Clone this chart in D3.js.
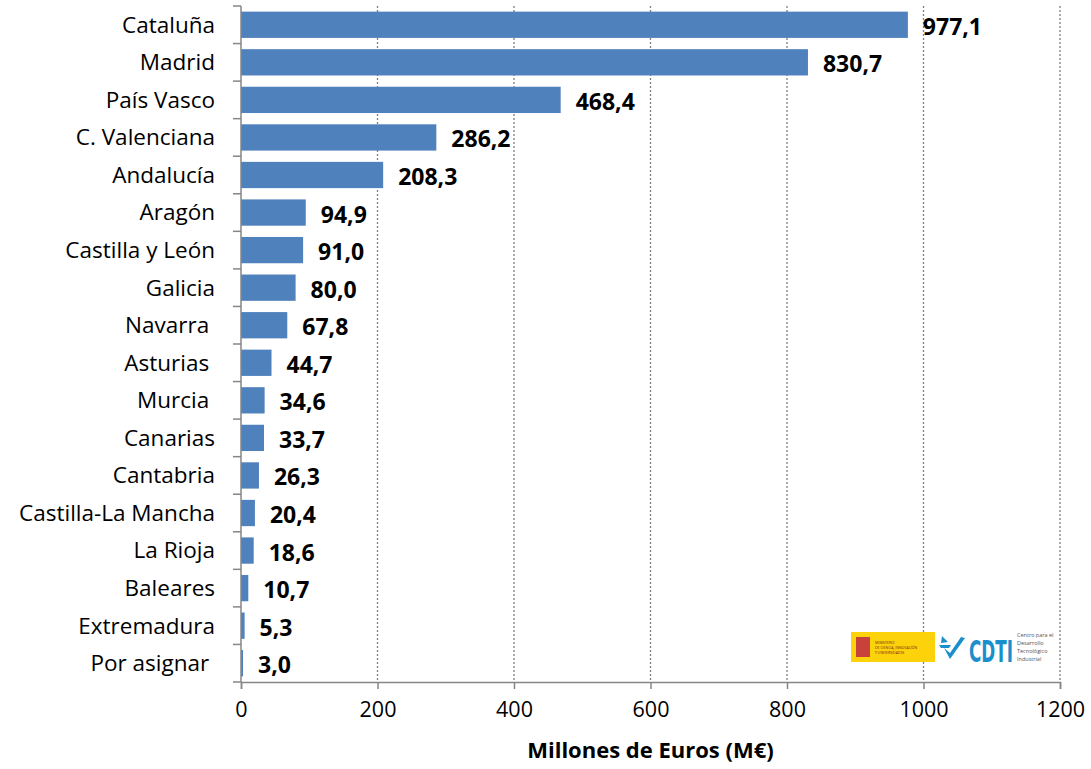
<!DOCTYPE html>
<html>
<head>
<meta charset="utf-8">
<script src="https://cdn.jsdelivr.net/npm/d3@7"></script>
<style>
body { margin: 0; background: #fff; }
text { font-family: "Open Sans", "Noto Sans", sans-serif; }
.cat text { white-space: pre; }
</style>
</head>
<body>
<div id="chart"></div>
<script>
var regions = ["Cataluña", "Madrid", "País Vasco", "C. Valenciana", "Andalucía", "Aragón",
    "Castilla y León", "Galicia", "Navarra ", "Asturias ", "Murcia ", "Canarias", "Cantabria",
    "Castilla-La Mancha", "La Rioja", "Baleares", "Extremadura", "Por asignar "];
var values = [977.1, 830.7, 468.4, 286.2, 208.3, 94.9, 91.0, 80.0, 67.8, 44.7, 34.6, 33.7,
    26.3, 20.4, 18.6, 10.7, 5.3, 3.0];
var xTicks = [0, 200, 400, 600, 800, 1000, 1200];
var axisTitle = "Millones de Euros (M€)";

var margin = {top: 6, right: 31, bottom: 87, left: 241},
    width = 1091 - margin.left - margin.right,
    height = 769 - margin.top - margin.bottom;

var svg = d3.select("#chart").append("svg")
    .attr("width", 1091)
    .attr("height", 769)
    .append("g")
    .attr("transform", "translate(" + margin.left + "," + margin.top + ")");

var x = d3.scaleLinear().domain([0, 1200]).range([0, width]);
var y = d3.scaleBand().domain(regions).range([0, height]).paddingInner(0.3).paddingOuter(0.15);

// vertical grid lines
svg.selectAll(".grid")
    .data(xTicks.slice(1))
    .enter().append("line")
    .attr("class", "grid")
    .attr("x1", d => x(d)).attr("x2", d => x(d))
    .attr("y1", 0).attr("y2", height)
    .attr("stroke", "#7f7f7f")
    .attr("stroke-width", 1.3)
    .attr("stroke-dasharray", "2,2");

svg.selectAll(".bar")
    .data(values)
    .enter().append("rect")
    .attr("class", "bar")
    .attr("x", x(0))
    .attr("y", (d, i) => y(regions[i]))
    .attr("width", d => x(d) - x(0))
    .attr("height", y.bandwidth())
    .attr("fill", "#4f81bd");

svg.selectAll(".val")
    .data(values)
    .enter().append("text")
    .attr("class", "val")
    .attr("x", d => x(d) + 15)
    .attr("y", (d, i) => y(regions[i]) + y.bandwidth() / 2 + 2)
    .attr("dy", "0.35em")
    .style("font-size", "23px")
    .style("font-weight", "bold")
    .text(d => d.toFixed(1).replace(".", ","));

// y axis with ticks at band boundaries
var yAxis = svg.append("g").attr("class", "cat");
yAxis.append("line")
    .attr("x1", 0).attr("x2", 0).attr("y1", 0).attr("y2", height)
    .attr("stroke", "#868686").attr("stroke-width", 1.5);
var step = height / regions.length;
yAxis.selectAll(".tk")
    .data(d3.range(regions.length + 1))
    .enter().append("line")
    .attr("x1", -8).attr("x2", 0)
    .attr("y1", d => d * step).attr("y2", d => d * step)
    .attr("stroke", "#868686").attr("stroke-width", 1.5);
yAxis.selectAll(".lbl")
    .data(regions)
    .enter().append("text")
    .attr("x", -26)
    .attr("y", d => y(d) + y.bandwidth() / 2)
    .attr("dy", "0.35em")
    .attr("text-anchor", "end")
    .style("font-size", "22.5px")
    .style("fill", "#000")
    .text(d => d);

// x axis
var xAxis = d3.axisBottom(x).tickValues(xTicks).tickSize(7).tickPadding(13).tickFormat(d3.format("d"));
var gx = svg.append("g")
    .attr("transform", "translate(0," + height + ")")
    .call(xAxis);
gx.select(".domain").attr("stroke", "#868686").attr("stroke-width", 1.5);
gx.selectAll(".tick line").attr("stroke", "#868686").attr("stroke-width", 1.5);
gx.selectAll(".tick text").style("font-size", "21.5px").style("fill", "#000")
    .style("font-family", "'Open Sans', sans-serif");

svg.append("text")
    .attr("x", width / 2)
    .attr("y", height + 76)
    .attr("text-anchor", "middle")
    .style("font-size", "22px")
    .style("font-weight", "bold")
    .text(axisTitle);

// logos
var logo = d3.select("svg").append("g").attr("transform", "translate(851,632)");
logo.append("rect").attr("width", 84).attr("height", 30).attr("fill", "#fcd20a");
logo.append("rect").attr("x", 5).attr("y", 5).attr("width", 14).attr("height", 20).attr("fill", "#c8413a");
var min = logo.append("text").attr("y", 12).style("font-size", "3.5px").attr("fill", "#7a1f1f");
["MINISTERIO", "DE CIENCIA, INNOVACIÓN", "Y UNIVERSIDADES"].forEach(function(t, i) {
    min.append("tspan").attr("x", 24).attr("dy", i ? 5 : 0).text(t);
});
logo.append("path").attr("d", "M91,4 L97,10 L90,11 Z M88,13 L100,13 L98,16 L90,16 Z M99,27 L114,6 L110,5 L99,21 L93,16 Z").attr("fill", "#1b8fcb");
logo.append("text").attr("x", 118).attr("y", 30)
    .style("font-size", "30px").style("font-weight", "bold")
    .style("font-family", "'DejaVu Sans Condensed', 'Liberation Sans Narrow', sans-serif")
    .attr("textLength", 44).attr("lengthAdjust", "spacingAndGlyphs")
    .attr("fill", "#1b8fcb").text("CDTI");
var cen = logo.append("text").attr("y", 5).style("font-size", "5.5px").attr("fill", "#555");
["Centro para el", "Desarrollo", "Tecnológico", "Industrial"].forEach(function(t, i) {
    cen.append("tspan").attr("x", 166).attr("dy", i ? 8 : 0).text(t);
});
</script>
</body>
</html>
